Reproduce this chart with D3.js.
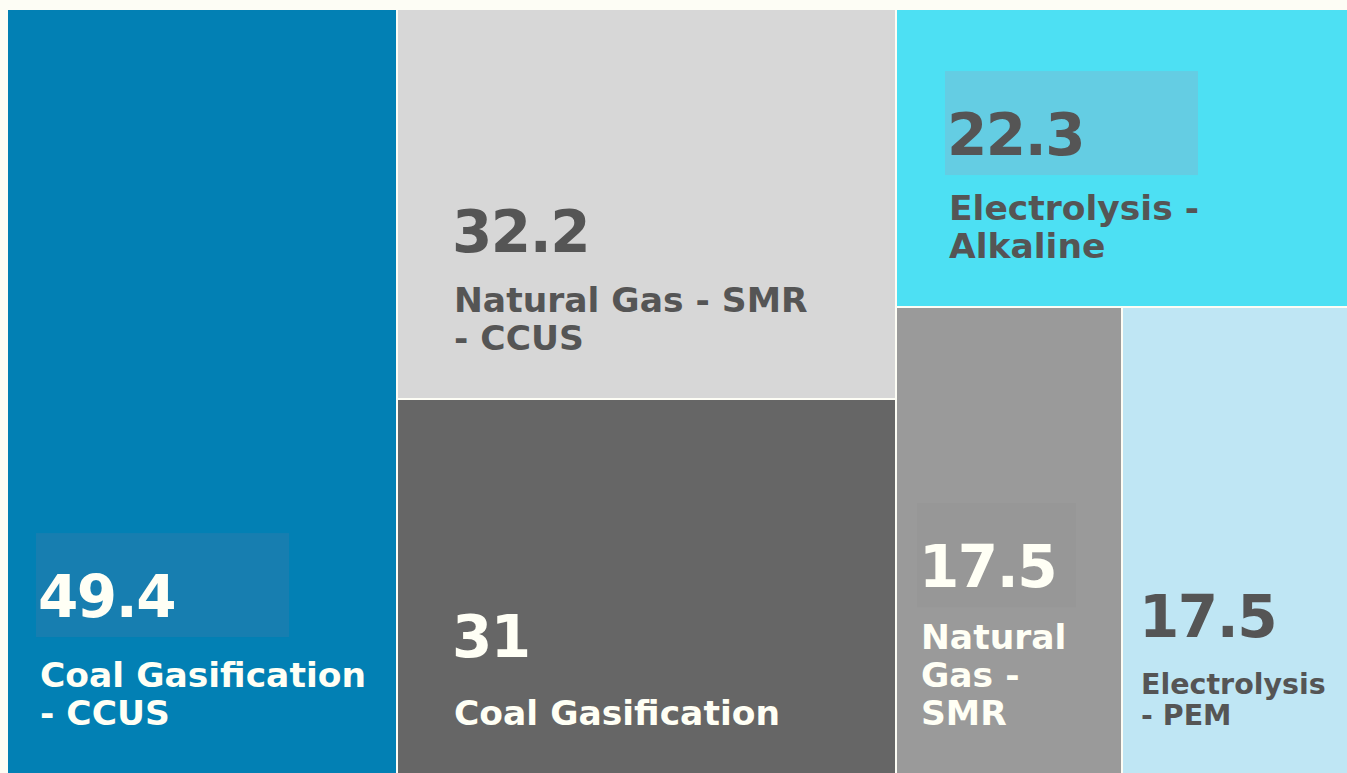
<!DOCTYPE html>
<html>
<head>
<meta charset="utf-8">
<script src="https://cdn.jsdelivr.net/npm/d3@7"></script>
<style>
  html, body { margin: 0; padding: 0; background: #fdfdf5; }
  svg { display: block; }
  text { font-family: "DejaVu Sans", sans-serif; font-weight: bold; }
</style>
</head>
<body>
<div class="chart"></div>
<script>
// data
var categories = ["Coal Gasification - CCUS", "Natural Gas - SMR - CCUS", "Coal Gasification",
  "Electrolysis - Alkaline", "Natural Gas - SMR", "Electrolysis - PEM"];
var values = [49.4, 32.2, 31, 22.3, 17.5, 17.5];
// how the labels break over lines in the original
var labelLines = [
  ["Coal Gasification", "- CCUS"],
  ["Natural Gas - SMR", "- CCUS"],
  ["Coal Gasification"],
  ["Electrolysis -", "Alkaline"],
  ["Natural", "Gas -", "SMR"],
  ["Electrolysis", "- PEM"]
];
// columns / nesting of the tiles (indexes into categories)
var blocks = [[0], [1, 2], [3, [4, 5]]];

// styles per tile
var fills = ["#0280b4", "#d7d7d7", "#666666", "#4de0f3", "#9a9a9a", "#bfe6f4"];
var inks = ["#fffff5", "#555555", "#fffff5", "#555555", "#fffff5", "#555555"];
var padX = [30, 54, 54, 50, 22, 16];
var labelSize = [34.5, 34.5, 34.5, 34.5, 34.5, 28.5];
var numGap = [70, 60, 68, 65, 62, 57];
var boxFill = ["#177eb0", null, null, "#64cde3", "#979797", null];
var boxW = [253, 0, 0, 253, 159, 0];

var width = 1347, height = 773,
  marginLeft = 8, marginTop = 10;

var svg = d3.select(".chart").append("svg")
  .attr("width", width)
  .attr("height", height)
  .append("g")
  .attr("transform", "translate(" + marginLeft + "," + marginTop + ")");

//build the nested tree from the blocks
function toNode(b) {
  if (Array.isArray(b)) return {children: b.map(toNode)};
  return {idx: b, name: categories[b], value: values[b]};
}
var root = d3.hierarchy({children: blocks.map(toNode)})
  .sum(function(d) { return d.value || 0; });

d3.treemap()
  .tile(d3.treemapSliceDice)
  .size([width - marginLeft, height - marginTop])
  .paddingInner(2)
  .round(true)(root);

var leaves = root.leaves();

var cell = svg.selectAll("g.cell")
  .data(leaves)
  .enter().append("g")
  .attr("class", "cell");

cell.append("rect")
  .attr("x", function(d) { return d.x0; })
  .attr("y", function(d) { return d.y0; })
  .attr("width", function(d) { return d.x1 - d.x0; })
  .attr("height", function(d) { return d.y1 - d.y0; })
  .style("fill", function(d) { return fills[d.data.idx]; });

cell.each(function(d) {
  var g = d3.select(this);
  var i = d.data.idx;
  var lines = labelLines[i];
  var lh = labelSize[i] * 1.1;
  var x = d.x0 + padX[i];
  var lastBase = d.y1 - 48;
  var firstBase = lastBase - lh * (lines.length - 1);
  var numBase = firstBase - numGap[i];

  if (boxFill[i]) {
    g.append("rect")
      .attr("x", x - 2)
      .attr("y", numBase - 84)
      .attr("width", boxW[i])
      .attr("height", 104)
      .style("fill", boxFill[i]);
  }

  g.append("text")
    .attr("x", x)
    .attr("y", numBase)
    .style("font-size", "58px")
    .style("letter-spacing", "-1.5px")
    .style("fill", inks[i])
    .text(d3.format("")(values[i]));

  lines.forEach(function(line, j) {
    g.append("text")
      .attr("x", x + 2)
      .attr("y", firstBase + lh * j)
      .style("font-size", labelSize[i] + "px")
      .style("fill", inks[i])
      .text(line);
  });
});
</script>
</body>
</html>
